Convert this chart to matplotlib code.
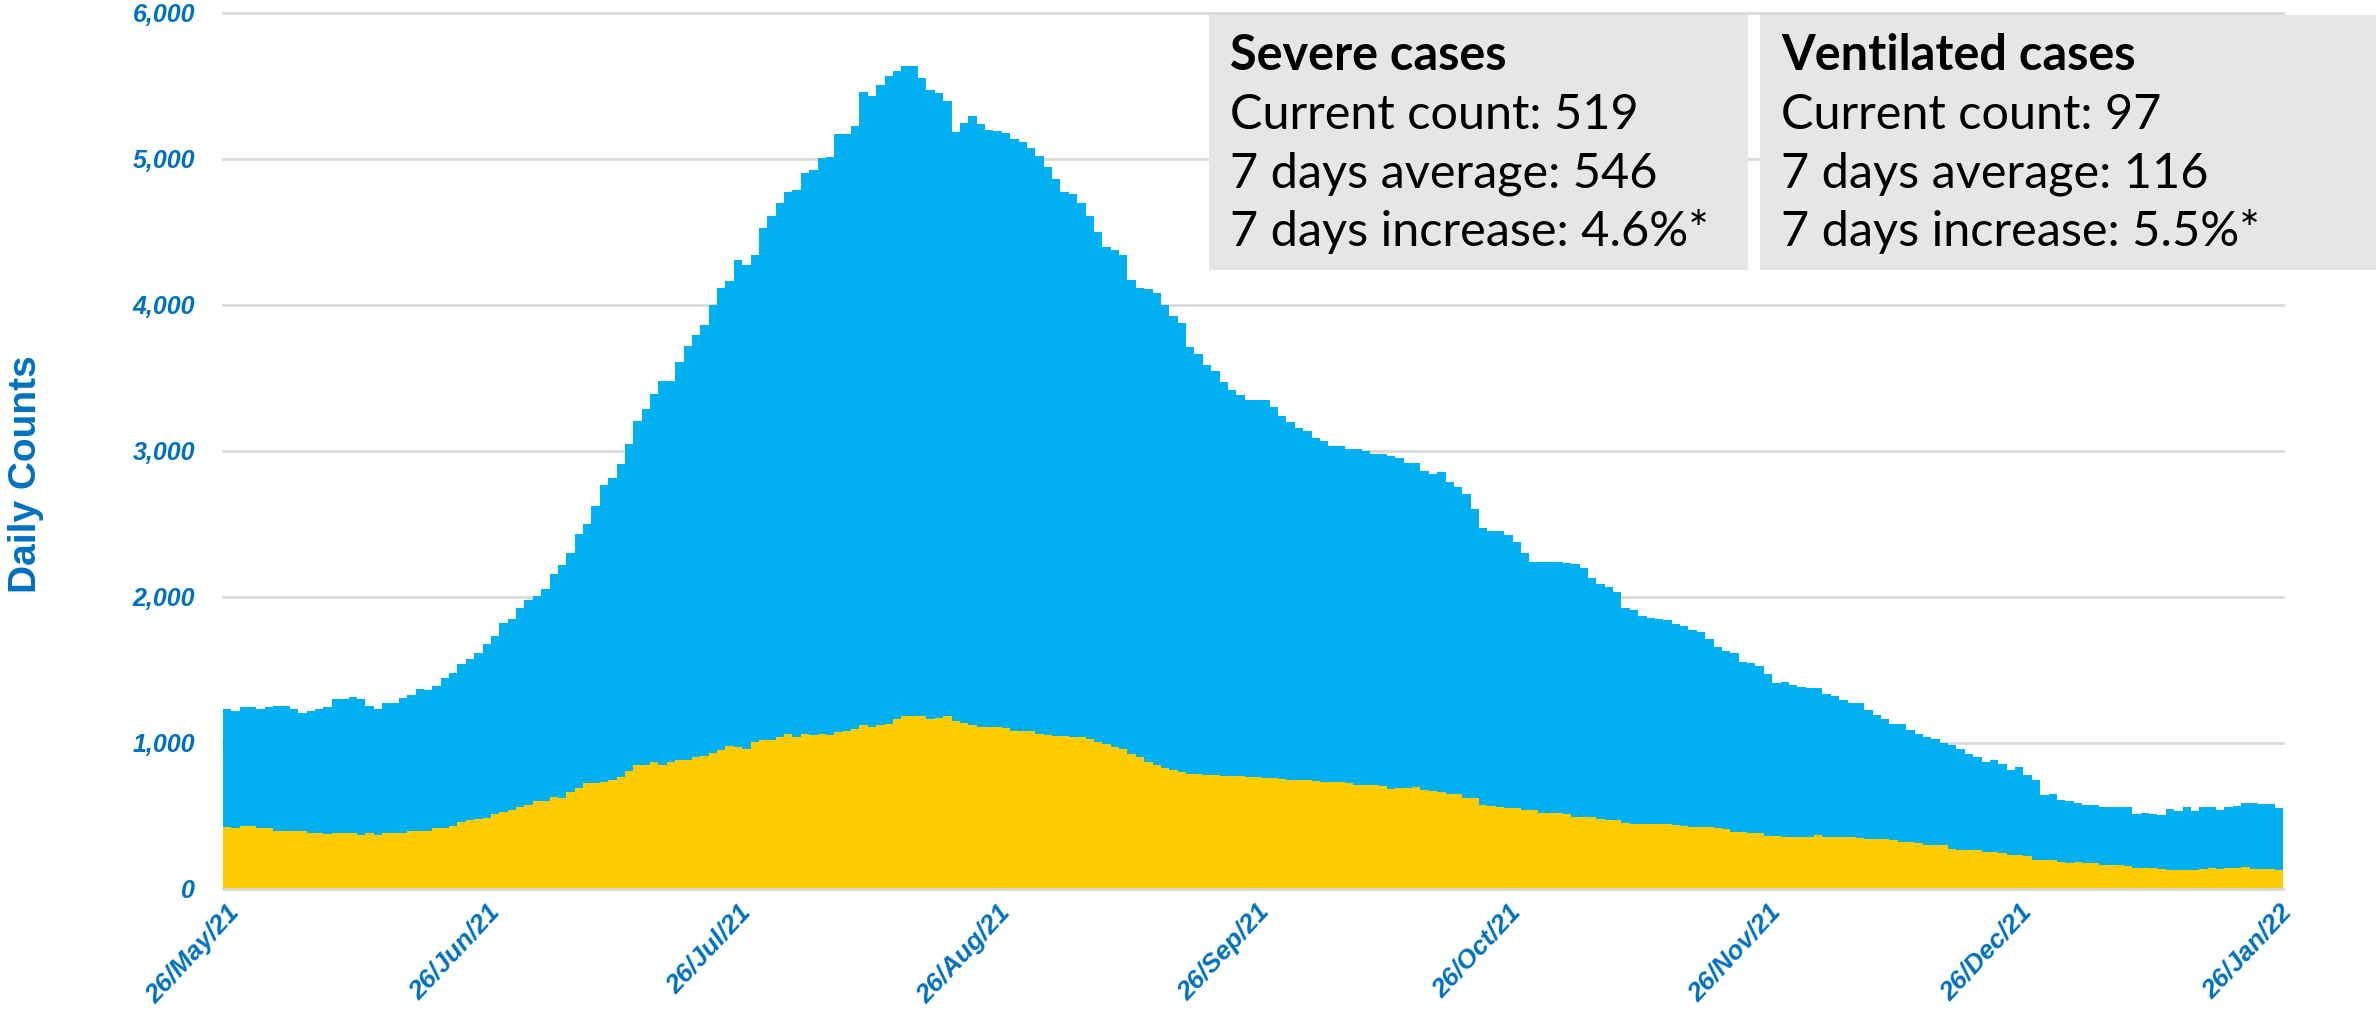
import matplotlib
matplotlib.use("Agg")
import matplotlib.pyplot as plt
from matplotlib.patches import Rectangle
from matplotlib.ticker import FuncFormatter
import numpy as np

# ---------------- data ----------------
tick_days = [0, 31, 61, 92, 123, 153, 184, 214, 245]
tick_labels = ["26/May/21", "26/Jun/21", "26/Jul/21", "26/Aug/21", "26/Sep/21",
               "26/Oct/21", "26/Nov/21", "26/Dec/21", "26/Jan/22"]

severe = [
    1231, 1220, 1245, 1245, 1235, 1245, 1255, 1255, 1231, 1205,
    1217, 1231, 1245, 1300, 1304, 1316, 1300, 1255, 1235, 1274,
    1274, 1310, 1327, 1368, 1360, 1390, 1447, 1482, 1543, 1573,
    1618, 1675, 1732, 1823, 1852, 1925, 1982, 2010, 2055, 2158,
    2217, 2300, 2430, 2500, 2620, 2764, 2812, 2911, 3051, 3208,
    3290, 3393, 3482, 3482, 3611, 3721, 3796, 3865, 4001, 4117,
    4167, 4307, 4273, 4341, 4527, 4613, 4697, 4774, 4788, 4907,
    4925, 5006, 5014, 5171, 5171, 5226, 5459, 5430, 5506, 5569,
    5604, 5640, 5640, 5552, 5476, 5451, 5398, 5188, 5249, 5294,
    5240, 5197, 5190, 5175, 5135, 5116, 5075, 5022, 4942, 4864,
    4771, 4760, 4697, 4610, 4500, 4400, 4377, 4343, 4173, 4115,
    4110, 4079, 4000, 3922, 3877, 3714, 3661, 3591, 3546, 3476,
    3417, 3381, 3347, 3347, 3350, 3303, 3242, 3197, 3155, 3138,
    3091, 3068, 3033, 3033, 3016, 3016, 2998, 2981, 2978, 2965,
    2950, 2920, 2916, 2864, 2843, 2856, 2785, 2751, 2707, 2602,
    2471, 2450, 2450, 2423, 2374, 2300, 2243, 2243, 2243, 2243,
    2236, 2223, 2196, 2130, 2086, 2070, 2031, 1922, 1908, 1868,
    1855, 1847, 1842, 1815, 1802, 1776, 1763, 1711, 1658, 1632,
    1614, 1553, 1545, 1527, 1470, 1413, 1420, 1395, 1381, 1380,
    1380, 1338, 1320, 1293, 1277, 1277, 1229, 1190, 1163, 1133,
    1130, 1088, 1060, 1042, 1024, 1001, 985, 962, 923, 901,
    871, 882, 855, 814, 837, 780, 746, 643, 650, 609,
    602, 586, 575, 575, 563, 563, 563, 563, 511, 518,
    514, 506, 545, 536, 559, 536, 563, 563, 540, 563,
    567, 590, 590, 581, 579, 552,
]

ventilated = [
    426, 415, 431, 431, 415, 415, 399, 399, 399, 399,
    385, 385, 374, 381, 381, 381, 369, 381, 369, 381,
    381, 381, 399, 399, 399, 415, 415, 431, 456, 472,
    480, 488, 513, 529, 540, 560, 575, 605, 605, 627,
    620, 666, 693, 723, 723, 735, 750, 766, 805, 851,
    852, 868, 852, 868, 886, 886, 904, 910, 930, 950,
    981, 976, 958, 1009, 1019, 1019, 1044, 1060, 1044, 1060,
    1053, 1060, 1053, 1078, 1085, 1095, 1120, 1113, 1125, 1130,
    1165, 1183, 1183, 1183, 1165, 1172, 1183, 1148, 1138, 1125,
    1113, 1113, 1110, 1105, 1085, 1080, 1080, 1065, 1055, 1050,
    1045, 1040, 1040, 1030, 1005, 990, 975, 960, 925, 905,
    870, 850, 830, 815, 800, 790, 785, 782, 780, 775,
    772, 772, 770, 765, 760, 758, 755, 750, 745, 745,
    740, 735, 732, 730, 728, 715, 712, 710, 705, 682,
    690, 692, 698, 680, 670, 665, 652, 648, 625, 620,
    572, 568, 560, 557, 555, 542, 538, 522, 520, 518,
    515, 495, 492, 490, 480, 475, 470, 450, 447, 445,
    445, 443, 445, 440, 430, 428, 425, 425, 415, 412,
    390, 388, 386, 385, 365, 360, 358, 356, 355, 356,
    370, 356, 355, 356, 354, 352, 342, 340, 340, 338,
    325, 324, 318, 302, 300, 298, 272, 270, 270, 265,
    255, 256, 250, 235, 232, 228, 200, 198, 196, 185,
    180, 182, 178, 180, 165, 164, 162, 160, 145, 142,
    144, 140, 132, 130, 128, 130, 135, 142, 140, 142,
    145, 153, 138, 137, 138, 132,
]

severe_box = ["Severe cases", "Current count: 519", "7 days average: 546", "7 days increase: 4.6%*"]
vent_box = ["Ventilated cases", "Current count: 97", "7 days average: 116", "7 days increase: 5.5%*"]

# ---------------- style ----------------
BLUE = "#00B0F0"
YELLOW = "#FFCC00"
LABEL = "#0070C0"
GRID = "#D9D9D9"
BOXC = "#E6E6E6"

W, H = 2376, 1011
fig = plt.figure(figsize=(W / 100, H / 100), dpi=100)
ax = fig.add_axes([223 / W, 1 - 889 / H, (2283 - 223) / W, (889 - 13) / H])

x = np.arange(len(severe))
ax.bar(x, severe, width=1.0, color=BLUE, linewidth=0, antialiased=False, zorder=2)
ax.bar(x, ventilated, width=1.0, color=YELLOW, linewidth=0, antialiased=False, zorder=3)

ax.set_xlim(-0.5, len(severe) - 0.5)
ax.set_ylim(0, 6000)
ax.set_yticks(range(0, 6001, 1000))
ax.yaxis.set_major_formatter(FuncFormatter(lambda v, p: f"{int(v):,}"))
ax.grid(axis="y", color=GRID, linewidth=2.0, zorder=1)
ax.set_axisbelow(True)
for ln in ax.get_ygridlines():
    ln.set_clip_on(False)
ax.axhline(0, color=GRID, linewidth=2.0, zorder=4)

for s in ax.spines.values():
    s.set_visible(False)

ax.set_xticks(tick_days)
ax.set_xticklabels(tick_labels)
ax.tick_params(axis="both", length=0)
ax.tick_params(axis="y", pad=20)
ax.tick_params(axis="x", pad=8)
for lab in ax.get_yticklabels():
    lab.set_fontfamily("Liberation Sans")
    lab.set_fontweight("bold")
    lab.set_fontstyle("italic")
    lab.set_fontsize(18)
    lab.set_color(LABEL)
for lab in ax.get_xticklabels():
    lab.set_fontfamily("Liberation Sans")
    lab.set_fontweight("bold")
    lab.set_fontstyle("italic")
    lab.set_fontsize(19)
    lab.set_color(LABEL)
    lab.set_rotation(47)
    lab.set_ha("right")
    lab.set_rotation_mode("anchor")

fig.text(26 / W, 1 - 474 / H, "Daily Counts", rotation=90, ha="center", va="center",
         fontsize=28, fontweight="bold", color=LABEL, family="Liberation Sans")

# info boxes
fig.patches.append(Rectangle((1209 / W, 1 - 270 / H), (1748 - 1209) / W, (270 - 15) / H,
                             transform=fig.transFigure, facecolor=BOXC, edgecolor="none", zorder=5))
fig.patches.append(Rectangle((1760 / W, 1 - 270 / H), (W - 1760) / W, (270 - 15) / H,
                             transform=fig.transFigure, facecolor=BOXC, edgecolor="none", zorder=5))

row_y = [52, 111, 169, 227]
for left, lines in ((1230, severe_box), (1781, vent_box)):
    for i, (t, yy) in enumerate(zip(lines, row_y)):
        fig.text(left / W, 1 - yy / H, t, ha="left", va="center_baseline",
                 fontsize=35, family="Lato", color="black",
                 fontweight="bold" if i == 0 else "normal", zorder=6)

fig.savefig("out.png", dpi=100)
